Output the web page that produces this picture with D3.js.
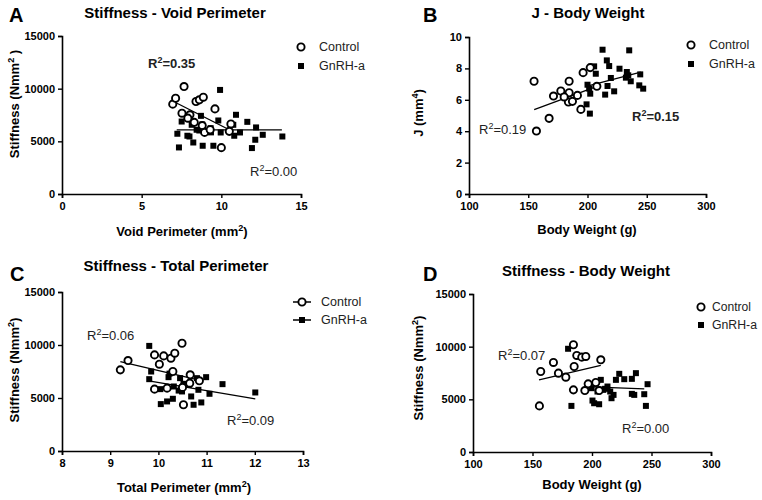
<!DOCTYPE html>
<html><head><meta charset="utf-8">
<script src="https://cdn.jsdelivr.net/npm/d3@7"></script>
<style>
body{margin:0;background:#fff;}
svg{display:block;font-family:"Liberation Sans",Arial,sans-serif;}
.tick text{font-weight:bold;font-size:11px;fill:#000;}
</style></head><body>
<svg id="c" width="762" height="500"></svg>
<script>
// ---------- Data ----------
// Panel A: Stiffness vs Void Perimeter
const aControl = [[6.95,8530],[7.13,9090],[7.66,10200],[7.53,7670],[8.03,7515],[8.41,8780],[8.62,8940],[8.87,9190],[9.60,8080],[8.80,6500],[8.95,5850],[10.0,4400],[10.6,6650],[10.5,5950],[7.9,7200],[9.3,6100],[8.3,6800]];
const aGnRH = [[7.24,5720],[7.34,4420],[7.51,6880],[7.87,5530],[8.0,5460],[8.14,6570],[8.24,4890],[8.45,6100],[8.72,7420],[8.8,6600],[8.83,4580],[9.33,6250],[9.35,5850],[9.50,4580],[9.81,6980],[9.92,9880],[9.96,5840],[10.75,6570],[10.81,5530],[10.92,7520],[11.17,5840],[11.63,6850],[12.18,6320],[12.13,5150],[11.92,4360],[12.6,5620],[13.83,5460],[8.62,6030]];
const aFitControl = [[7.0,8780],[10.5,6100]];
const aFitGnRH = [[7.2,6090],[13.8,6090]];

// Panel B: J vs Body Weight
const bControl = [[154.9,7.18],[156.9,4.01],[167.6,4.82],[171.3,6.24],[177.5,6.56],[183.9,5.86],[184.5,7.18],[184.5,6.45],[187.3,5.90],[191.5,6.28],[194.4,5.39],[196.3,7.73],[202.3,8.05],[207.9,6.86],[180.3,6.18]];
const bGnRH = [[212.7,9.19],[235.2,9.15],[216.3,8.51],[218.3,8.15],[205.6,8.13],[207.0,7.66],[227.0,7.98],[233.2,7.77],[234.4,7.56],[244.5,7.62],[219.7,7.39],[232.4,7.41],[236.5,7.18],[200.0,6.96],[201.4,6.71],[216.9,6.88],[222.5,6.54],[214.9,6.33],[202.3,6.39],[243.7,6.92],[247.0,6.71],[199.2,5.71],[202.0,5.12]];
const bFitControl = [[155,5.38],[208,6.85]];
const bFitGnRH = [[199,6.85],[245,7.77]];

// Panel C: Stiffness vs Total Perimeter
const cControl = [[9.21,7656],[9.37,8535],[9.92,5836],[9.92,9068],[10.02,8190],[10.11,8974],[10.26,8754],[10.34,9225],[10.49,10166],[10.30,7499],[10.18,5930],[10.52,4361],[10.66,7185],[10.85,6621],[10.5,6000],[10.65,6400]];
const cGnRH = [[9.81,9915],[9.85,7499],[9.81,6777],[10.04,5836],[10.05,4424],[10.18,4675],[10.21,6966],[10.23,7300],[10.30,4926],[10.32,6087],[10.45,6872],[10.49,5617],[10.52,6338],[10.63,6244],[10.68,5146],[10.73,4361],[10.80,6872],[10.83,5773],[10.89,4581],[10.99,6966],[11.06,5397],[11.33,6307],[12.01,5522],[10.42,5700]];
const cFitControl = [[9.21,8440],[10.87,6652]];
const cFitGnRH = [[9.80,6620],[12.01,4926]];

// Panel D: Stiffness vs Body Weight
const dControl = [[156.9,7643],[155.8,4377],[167.6,8500],[171.8,7485],[178.0,7104],[184.4,10181],[185.0,8119],[187.2,9166],[191.4,9007],[194.8,9071],[207.4,8753],[184.4,5899],[194.0,5836],[196.8,6470],[203.2,6597],[206.0,5836]];
const dGnRH = [[179.9,9800],[182.7,4377],[199.6,6058],[200.4,4884],[201.8,4630],[206.0,4535],[207.4,6850],[204.6,5741],[209.5,5900],[213.0,6216],[215.3,5741],[216.4,5106],[218.1,5423],[220.1,6850],[222.9,7421],[227.1,6914],[233.5,6946],[236.9,7485],[233.5,5519],[235.5,5423],[243.9,5487],[245.3,4377],[246.7,6438],[211,6000]];
const dFitControl = [[155.5,6850],[207.4,8214]];
const dFitGnRH = [[194.0,6216],[243.9,5994]];

const seriesNames = ["Control","GnRH-a"];
const panelLetters = ["A","B","C","D"];
const titles = ["Stiffness - Void Perimeter","J  - Body Weight","Stiffness - Total Perimeter","Stiffness - Body Weight"];
const r2Labels = [["0.35","0.00"],["0.19","0.15"],["0.06","0.09"],["0.07","0.00"]];
const xTicksA = [0,5,10,15], yTicksStiff = [0,5000,10000,15000];
const xTicksB = [100,150,200,250,300], yTicksB = [0,2,4,6,8,10];
const xTicksC = [8,9,10,11,12,13];

// ---------- Layout ----------
const svg = d3.select("#c");
const panels = [
  {ctl:aControl,gn:aGnRH,fc:aFitControl,fg:aFitGnRH,xd:[0,15],yd:[0,15000],xt:xTicksA,yt:yTicksStiff,
   xr:[62,301],yr:[194,36],xl:["Void Perimeter (mm","2",")"],yl:["Stiffness (Nmm","2"," )"],
   letter:[9,22],title:[175,18],xlab:[182,236],ylab:[19,104],
   leg:[301,47,66],legLine:false,legOff:18,r2:[[148,68,true],[250,176,false]]},
  {ctl:bControl,gn:bGnRH,fc:bFitControl,fg:bFitGnRH,xd:[100,300],yd:[0,10],xt:xTicksB,yt:yTicksB,
   xr:[469,706],yr:[194,37],xl:["Body Weight (g)"],yl:["J (mm","4",")"],
   letter:[423,22],title:[588,18],xlab:[587,234],ylab:[423,113],
   leg:[691,45,64],legLine:false,legOff:18,r2:[[479,134,false],[632,121,true]]},
  {ctl:cControl,gn:cGnRH,fc:cFitControl,fg:cFitGnRH,xd:[8,13],yd:[0,15000],xt:xTicksC,yt:yTicksStiff,
   xr:[62,303],yr:[451,292],xl:["Total Perimeter (mm","2",")"],yl:["Stiffness (Nmm","2",")"],
   letter:[10,281],title:[176,271],xlab:[184,492],ylab:[19,370],
   leg:[302,302,320],legLine:true,legOff:19,r2:[[87,340,false],[227,425,false]]},
  {ctl:dControl,gn:dGnRH,fc:dFitControl,fg:dFitGnRH,xd:[100,300],yd:[0,15000],xt:xTicksB,yt:yTicksStiff,
   xr:[473,711],yr:[452,294],xl:["Body Weight (g)"],yl:["Stiffness (Nmm","2",")"],
   letter:[423,281],title:[586,276],xlab:[592,489],ylab:[423,368],
   leg:[701,307,325],legLine:false,legOff:11,legFit:[39,45],r2:[[498,360,false],[622,433,false]]}
];

function richText(sel, parts, size){
  parts.forEach((p,i)=>{
    const t = sel.append("tspan").text(p);
    if(i===1){ t.attr("dy",-size*0.4).attr("font-size",size*0.7); }
    if(i===2){ t.attr("dy",size*0.4); }
  });
}

panels.forEach((p,pi)=>{
  const g = svg.append("g");
  const x = d3.scaleLinear().domain(p.xd).range(p.xr);
  const y = d3.scaleLinear().domain(p.yd).range(p.yr);
  const ax = g.append("g").attr("transform",`translate(0,${p.yr[0]})`)
    .call(d3.axisBottom(x).tickValues(p.xt).tickSize(4).tickPadding(4).tickFormat(d3.format("d")));
  const ay = g.append("g").attr("transform",`translate(${p.xr[0]},0)`)
    .call(d3.axisLeft(y).tickValues(p.yt).tickSize(4).tickPadding(3).tickFormat(d3.format("d")));
  [ax,ay].forEach(a=>{a.select(".domain").attr("stroke","#000").attr("stroke-width",1.6);
    a.selectAll(".tick line").attr("stroke","#000").attr("stroke-width",1.4);});

  // fit lines
  const line = d3.line().x(d=>x(d[0])).y(d=>y(d[1]));
  [p.fc,p.fg].forEach(f=>g.append("path").attr("d",line(f)).attr("fill","none").attr("stroke","#000").attr("stroke-width",1.3));

  // points
  g.selectAll("rect.gn").data(p.gn).join("rect").attr("class","gn")
    .attr("x",d=>x(d[0])-3).attr("y",d=>y(d[1])-3).attr("width",6).attr("height",6).attr("fill","#000");
  g.selectAll("circle.ct").data(p.ctl).join("circle").attr("class","ct")
    .attr("cx",d=>x(d[0])).attr("cy",d=>y(d[1])).attr("r",3.6)
    .attr("fill","#fff").attr("stroke","#000").attr("stroke-width",1.9);

  // letter & title
  g.append("text").attr("x",p.letter[0]).attr("y",p.letter[1]).text(panelLetters[pi])
    .attr("font-size",20).attr("font-weight","bold");
  g.append("text").attr("x",p.title[0]).attr("y",p.title[1]).attr("text-anchor","middle")
    .attr("font-size",15).attr("font-weight","bold").text(titles[pi]);

  // axis labels
  const xt = g.append("text").attr("x",p.xlab[0]).attr("y",p.xlab[1]).attr("text-anchor","middle")
    .attr("font-size",13).attr("font-weight","bold");
  richText(xt,p.xl,13);
  const yt = g.append("text").attr("transform",`translate(${p.ylab[0]},${p.ylab[1]}) rotate(-90)`)
    .attr("text-anchor","middle").attr("font-size",13).attr("font-weight","bold");
  richText(yt,p.yl,13);

  // legend
  const lx = p.leg[0];
  [p.leg[1],p.leg[2]].forEach((ly,i)=>{
    if(p.legLine) g.append("line").attr("x1",lx-9).attr("x2",lx+9).attr("y1",ly).attr("y2",ly).attr("stroke","#000").attr("stroke-width",1.5);
    if(i===0) g.append("circle").attr("cx",lx).attr("cy",ly).attr("r",3.6).attr("fill","#fff").attr("stroke","#000").attr("stroke-width",1.9);
    else g.append("rect").attr("x",lx-3).attr("y",ly-3).attr("width",6).attr("height",6).attr("fill","#000");
    const t = g.append("text").attr("x",lx+p.legOff).attr("y",ly+4).attr("font-size",12.5).attr("fill","#222").text(seriesNames[i]);
    if(p.legFit) t.attr("textLength",p.legFit[i]).attr("lengthAdjust","spacingAndGlyphs");
  });

  // R² labels
  p.r2.forEach((r,i)=>{
    const t = g.append("text").attr("x",r[0]).attr("y",r[1]).attr("font-size",13)
      .attr("fill","#222").attr("font-weight",r[2]?"bold":"normal");
    t.append("tspan").text("R");
    t.append("tspan").attr("dy",-5).attr("font-size",9).text("2");
    t.append("tspan").attr("dy",5).text("="+r2Labels[pi][i]);
  });
});
</script></body></html>
